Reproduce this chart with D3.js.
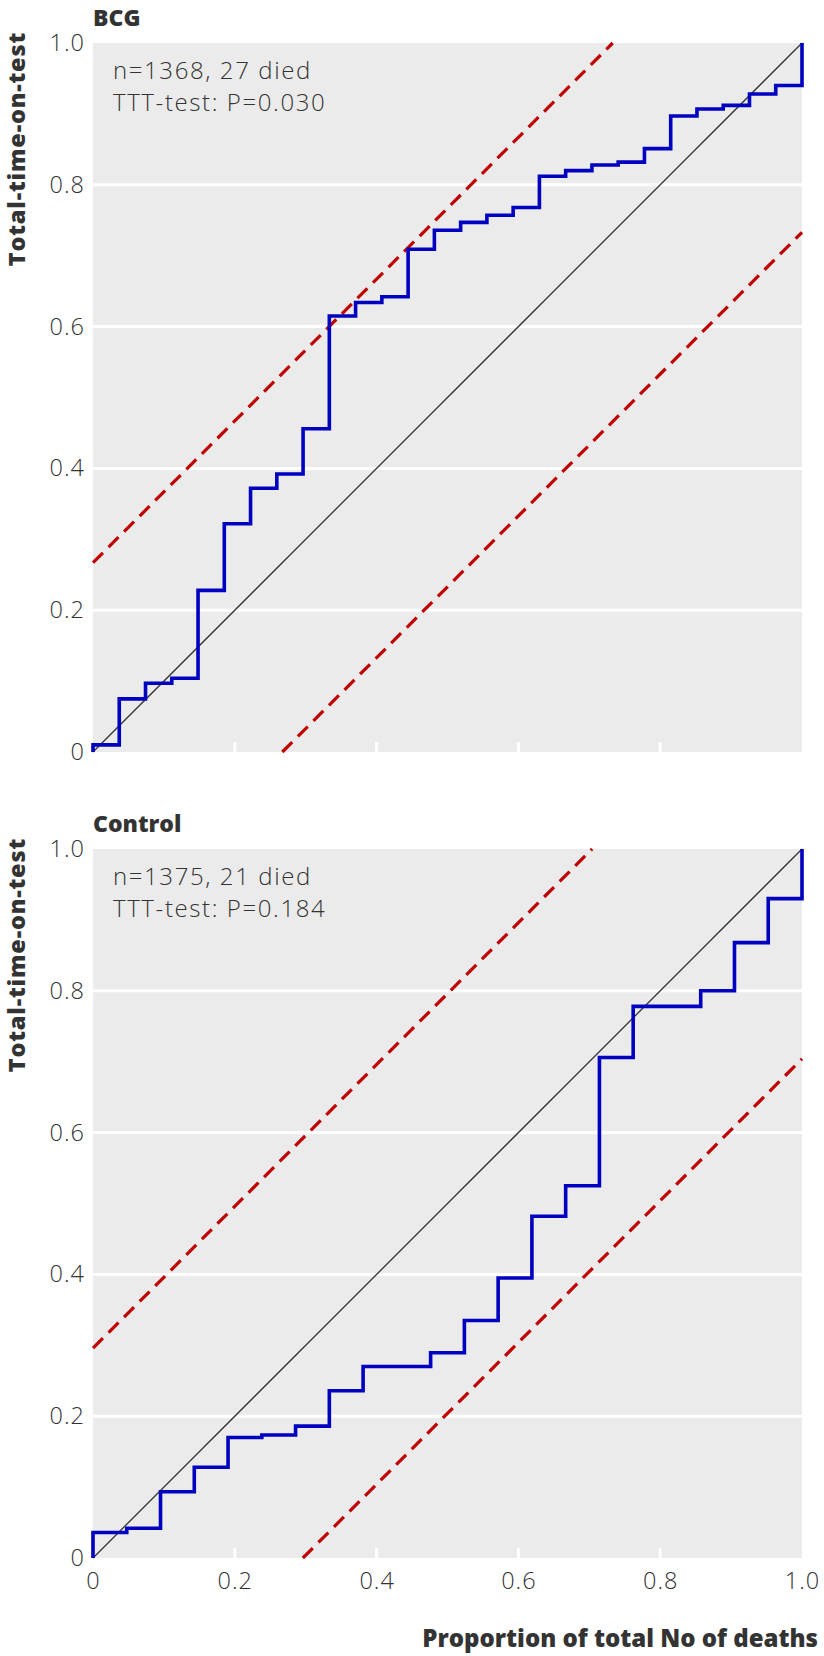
<!DOCTYPE html>
<html>
<head>
<meta charset="utf-8">
<script src="https://cdn.jsdelivr.net/npm/d3@7"></script>
<style>
  html, body { margin: 0; padding: 0; background: #fff; }
  svg { display: block; }
  text { font-family: "Open Sans", "Noto Sans", sans-serif; fill: #333; }
</style>
</head>
<body>
<svg id="chart" width="824" height="1656"></svg>
<script>
// ---------- DATA ----------
const tickValues = [0, 0.2, 0.4, 0.6, 0.8, 1.0];
const tickLabels = ["0", "0.2", "0.4", "0.6", "0.8", "1.0"];
const gridValues = [0.2, 0.4, 0.6, 0.8];

const panelTitles = ["BCG", "Control"];
const panelNotes = [
  ["n=1368, 27 died", "TTT-test: P=0.030"],
  ["n=1375, 21 died", "TTT-test: P=0.184"]
];
// scaled TTT levels at i/n, i = 0..n
const bcgTTT = [0.010, 0.075, 0.097, 0.104, 0.228, 0.322, 0.372, 0.392, 0.456, 0.615,
                0.634, 0.642, 0.709, 0.736, 0.747, 0.757, 0.768, 0.812, 0.820, 0.828,
                0.832, 0.851, 0.897, 0.907, 0.912, 0.928, 0.940, 1.000];
const controlTTT = [0.036, 0.042, 0.0935, 0.128, 0.170, 0.1735, 0.186, 0.236, 0.270, 0.270,
                    0.2895, 0.335, 0.395, 0.482, 0.525, 0.706, 0.778, 0.778, 0.800, 0.868,
                    0.930, 1.000];
// half-width of the confidence band around the diagonal
const bandWidths = [0.267, 0.296];

const xTitle = "Proportion of total No of deaths";
const yTitle = "Total-time-on-test";

// ---------- LAYOUT ----------
const svg = d3.select("#chart");
const left = 93, size = 709;
const panelTops = [43, 849];
const series = [bcgTTT, controlTTT];

const x = d3.scaleLinear().domain([0, 1]).range([left, left + size]);

panelTops.forEach((top, p) => {
  const y = d3.scaleLinear().domain([0, 1]).range([top + size, top]);
  const g = svg.append("g");

  // background
  g.append("rect")
    .attr("x", x(0)).attr("y", y(1))
    .attr("width", x(1) - x(0)).attr("height", y(0) - y(1))
    .attr("fill", "#ebebeb");

  // horizontal gridlines
  g.selectAll(".grid").data(gridValues).join("line")
    .attr("x1", x(0)).attr("x2", x(1))
    .attr("y1", d => y(d)).attr("y2", d => y(d))
    .attr("stroke", "#fff").attr("stroke-width", 3);

  // small inward white x ticks
  g.selectAll(".xt").data(gridValues).join("line")
    .attr("x1", d => x(d)).attr("x2", d => x(d))
    .attr("y1", y(0)).attr("y2", y(0) - 10)
    .attr("stroke", "#fff").attr("stroke-width", 3);

  // y axis labels
  const yAxis = d3.axisLeft(y).tickValues(tickValues)
    .tickFormat((d, i) => tickLabels[i]).tickSize(0).tickPadding(8);
  const ya = g.append("g").attr("transform", `translate(${x(0)},0)`).call(yAxis);
  ya.select(".domain").remove();
  ya.selectAll("text").style("font-size", "23.5px").attr("fill", "#333")
    .style("font-family", "'Open Sans', sans-serif").style("font-weight", 300)
    .style("letter-spacing", "1px");

  // diagonal
  g.append("line")
    .attr("x1", x(0)).attr("y1", y(0)).attr("x2", x(1)).attr("y2", y(1))
    .attr("stroke", "#333").attr("stroke-width", 1.3);

  // confidence band (dashed)
  const c = bandWidths[p];
  const bands = [[[0, c], [1 - c, 1]], [[c, 0], [1, 1 - c]]];
  const lineGen = d3.line().x(d => x(d[0])).y(d => y(d[1]));
  g.selectAll(".band").data(bands).join("path")
    .attr("d", lineGen)
    .attr("fill", "none").attr("stroke", "#c00000")
    .attr("stroke-width", 3.2).attr("stroke-dasharray", "14,8");

  // TTT step curve
  const vals = series[p];
  const n = vals.length - 1;
  const pts = [[0, 0]].concat(vals.map((v, i) => [i / n, v]));
  const step = d3.line().x(d => x(d[0])).y(d => y(d[1])).curve(d3.curveStepAfter);
  g.append("path").attr("d", step(pts))
    .attr("fill", "none").attr("stroke", "#0000c0")
    .attr("stroke-width", 3.6).attr("stroke-linejoin", "miter");

  // panel title
  g.append("text").attr("x", x(0)).attr("y", top - 17)
    .style("font-size", "23px").style("font-weight", 800).attr("fill", "#333")
    .text(panelTitles[p]);

  // notes
  panelNotes[p].forEach((t, i) => {
    g.append("text").attr("x", x(0) + 20).attr("y", top + 36 + i * 32)
      .style("font-size", "24px").style("font-weight", 300).attr("fill", "#333")
      .style("letter-spacing", "1.6px")
      .text(t);
  });

  // y title
  g.append("text")
    .attr("transform", `translate(25,${top - 11}) rotate(-90)`)
    .attr("text-anchor", "end")
    .style("font-size", "23.5px").style("font-weight", 800).attr("fill", "#333")
    .style("letter-spacing", "0.8px")
    .text(yTitle);

  if (p === 1) {
    const xAxis = d3.axisBottom(x).tickValues(tickValues)
      .tickFormat((d, i) => tickLabels[i]).tickSize(0).tickPadding(14);
    const xa = g.append("g").attr("transform", `translate(0,${y(0)})`).call(xAxis);
    xa.select(".domain").remove();
    xa.selectAll("text").style("font-size", "23.5px").attr("fill", "#333")
      .style("font-family", "'Open Sans', sans-serif").style("font-weight", 300)
      .style("letter-spacing", "1px");

    g.append("text").attr("x", 818).attr("y", 1647)
      .attr("text-anchor", "end")
      .style("font-size", "24px").style("font-weight", 800).attr("fill", "#333")
      .text(xTitle);
  }
});
</script>
</body>
</html>
